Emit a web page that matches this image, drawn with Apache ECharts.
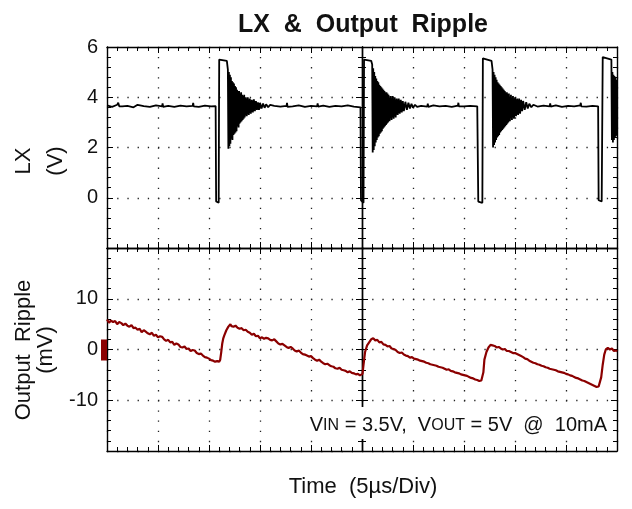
<!DOCTYPE html>
<html><head><meta charset="utf-8">
<script src="https://cdn.jsdelivr.net/npm/echarts@6/dist/echarts.min.js"></script>
<style>html,body{margin:0;padding:0;background:#fff}#c{width:632px;height:509px}</style>
</head><body><div id="c"></div>
<script>
// ---------- data ----------
const timeRange = [0, 50];          // µs, 5 µs / div
const timeStep = 5;
const lxRange = [-2, 6];            // V
const lxStep = 2;
const lxTickLabels = [6, 4, 2, 0];
const rippleRange = [-20, 20];      // mV
const rippleStep = 10;
const rippleTickLabels = [10, 0, -10];

// LX switching node [time µs, volts]
const lxTrace = [
 [0,3.68],[0.5,3.62],[1,3.7],[1.1,3.78],[1.2,3.64],[1.5,3.64],[2,3.66],[2.6,3.6],[3,3.7],[3.6,3.65],[4.2,3.62],[4.8,3.68],[5.4,3.64],[5.45,3.76],[5.5,3.62],[6,3.66],[6.6,3.62],[7.2,3.67],[7.8,3.64],[8.4,3.66],[8.45,3.78],[8.5,3.64],[9,3.62],[9.6,3.67],[10.2,3.64],[10.65,3.65],
 [10.7,-0.15],[10.95,-0.2],[11.0,5.5],[11.1,5.52],[11.75,5.45],
 [11.85,5.1],[11.9,1.95],[11.95,5.0],[12.0,2.05],[12.05,4.9],[12.1,2.15],[12.15,4.8],[12.2,2.35],[12.25,4.65],[12.3,2.3],[12.35,4.6],[12.4,2.5],[12.45,4.55],[12.5,2.55],[12.55,4.45],[12.6,2.6],[12.65,4.4],[12.7,2.65],[12.75,4.3],[12.8,2.85],[12.85,4.25],[12.9,2.8],[12.95,4.25],[13.0,2.95],[13.05,4.15],[13.1,3.0],[13.15,4.2],[13.2,3.05],[13.25,4.1],[13.3,3.1],[13.35,4.05],[13.4,3.15],[13.45,4.1],[13.5,3.2],[13.6,4.0],[13.7,3.25],[13.8,4.0],[13.9,3.3],[14.0,3.95],[14.1,3.35],[14.2,3.9],[14.3,3.4],[14.4,3.92],[14.5,3.45],[14.6,3.85],[14.7,3.5],[14.8,3.8],[14.9,3.5],[15.0,3.78],[15.15,3.55],[15.3,3.75],[15.45,3.58],[15.6,3.72],[15.8,3.6],[16.0,3.7],
 [16.4,3.66],[17,3.63],[17.6,3.66],[17.65,3.78],[17.7,3.62],[18.2,3.64],[18.8,3.68],[19.4,3.62],[20,3.66],[20.6,3.64],[20.65,3.76],[20.7,3.63],[21.2,3.67],[21.8,3.62],[22.4,3.66],[23,3.64],[23.6,3.68],[24.2,3.63],[24.85,3.6],
 [24.9,-0.1],[25.15,-0.2],[25.2,5.5],[25.3,5.55],[25.9,5.45],
 [26.0,5.3],[26.05,1.8],[26.1,5.15],[26.15,1.9],[26.2,5.0],[26.25,2.05],[26.3,4.85],[26.35,2.2],[26.4,4.75],[26.45,2.3],[26.5,4.65],[26.55,2.4],[26.6,4.6],[26.65,2.45],[26.7,4.5],[26.75,2.55],[26.8,4.45],[26.85,2.6],[26.9,4.4],[26.95,2.65],[27.0,4.35],[27.05,2.75],[27.1,4.3],[27.15,2.8],[27.2,4.25],[27.25,2.85],[27.3,4.2],[27.35,2.9],[27.4,4.2],[27.45,2.95],[27.5,4.15],[27.55,3.0],[27.6,4.1],[27.7,3.05],[27.8,4.05],[27.9,3.1],[28.0,4.05],[28.1,3.15],[28.2,4.0],[28.3,3.2],[28.4,3.95],[28.5,3.3],[28.6,3.95],[28.7,3.35],[28.8,3.9],[28.9,3.4],[29.0,3.85],[29.1,3.45],[29.25,3.82],[29.4,3.5],[29.55,3.78],[29.7,3.55],[29.85,3.74],[30.0,3.58],[30.2,3.7],[30.4,3.62],
 [30.8,3.66],[31.4,3.63],[31.45,3.75],[31.5,3.62],[32,3.68],[32.6,3.64],[33.2,3.66],[33.8,3.62],[34.4,3.67],[34.45,3.78],[34.5,3.64],[35,3.64],[35.6,3.66],[36.3,3.64],
 [36.4,-0.15],[36.8,-0.2],[36.85,5.55],[37.0,5.55],[37.7,5.45],
 [37.8,5.1],[37.85,2.0],[37.9,5.0],[37.95,2.1],[38.0,4.9],[38.05,2.2],[38.1,4.8],[38.15,2.3],[38.2,4.7],[38.25,2.4],[38.3,4.6],[38.35,2.45],[38.4,4.55],[38.45,2.5],[38.5,4.5],[38.55,2.6],[38.6,4.45],[38.65,2.65],[38.7,4.4],[38.75,2.7],[38.8,4.35],[38.85,2.75],[38.9,4.3],[38.95,2.8],[39.0,4.25],[39.05,2.85],[39.1,4.2],[39.15,2.9],[39.2,4.2],[39.25,2.95],[39.3,4.15],[39.35,3.0],[39.4,4.15],[39.5,3.05],[39.6,4.1],[39.7,3.1],[39.8,4.05],[39.9,3.15],[40.0,4.0],[40.1,3.25],[40.2,3.95],[40.3,3.3],[40.4,3.95],[40.5,3.35],[40.6,3.9],[40.7,3.45],[40.8,3.85],[40.95,3.5],[41.1,3.8],[41.25,3.55],[41.4,3.74],[41.6,3.6],[41.8,3.7],
 [42.2,3.63],[42.8,3.67],[43.4,3.64],[43.45,3.76],[43.5,3.63],[44,3.68],[44.6,3.62],[45.2,3.66],[45.8,3.64],[46.4,3.68],[46.45,3.78],[46.5,3.64],[47,3.63],[47.6,3.66],[48.15,3.64],
 [48.2,-0.1],[48.5,-0.15],[48.6,5.6],[48.7,5.58],[49.45,5.5],
 [49.5,2.3],[49.55,5.0],[49.6,2.2],[49.65,4.9],[49.7,2.3],[49.75,4.85],[49.8,2.4],[49.85,4.8],[49.9,2.45],[49.95,4.7],[50.0,2.5]
];

// Output ripple [time µs, mV]
const rippleTrace = [
 [0,5.9],[0.2,5.3],[0.4,5.7],[0.6,5.4],[0.8,5.6],[1.0,5.0],[1.2,5.4],[1.4,5.2],[1.6,4.8],[1.8,5.1],[2.0,4.7],[2.2,4.5],[2.4,4.8],[2.6,4.2],[2.8,4.3],[3.0,3.9],[3.2,4.1],[3.4,3.4],[3.6,3.8],[3.8,3.5],[4.0,3.2],[4.2,3.0],[4.4,3.3],[4.6,2.7],[4.8,2.9],[5.0,2.4],[5.2,2.6],[5.4,2.5],[5.6,2.0],[5.8,1.7],[6.0,1.9],[6.2,1.4],[6.4,1.5],[6.6,0.9],[6.8,1.2],[7.0,1.0],[7.2,0.5],[7.4,0.4],[7.6,0.6],[7.8,0.1],[8.0,0.2],[8.2,-0.3],[8.4,-0.1],[8.6,-0.2],[8.8,-0.7],[9.0,-0.9],[9.2,-0.8],[9.4,-1.2],[9.6,-1.5],[9.8,-1.6],[10.0,-1.8],[10.2,-2.1],[10.4,-2.2],[10.6,-2.4],[10.8,-2.3],[11.0,-2.4],[11.1,-2.0],
 [11.2,-0.5],[11.3,1.2],[11.4,2.2],[11.5,2.8],[11.7,3.8],[11.9,4.5],[12.1,5.0],
 [12.2,4.6],[12.3,4.9],[12.4,4.5],[12.6,4.7],[12.8,4.3],[13.0,4.1],[13.2,4.2],[13.4,3.8],[13.6,3.9],[13.8,3.5],[14.0,3.3],[14.2,2.9],[14.4,3.1],[14.6,2.6],[14.8,2.7],[15.0,2.2],[15.2,2.4],[15.4,2.1],[15.6,2.3],[15.8,2.2],[16.0,1.9],[16.2,1.8],[16.4,2.0],[16.6,1.6],[16.8,1.2],[17.0,1.0],[17.2,1.1],[17.4,0.8],[17.6,0.5],[17.8,0.3],[18.0,0.5],[18.2,0.2],[18.4,-0.2],[18.6,-0.4],[18.8,-0.2],[19.0,-0.6],[19.2,-0.9],[19.4,-1.0],[19.6,-1.2],[19.8,-1.4],[20.0,-1.3],[20.2,-1.7],[20.4,-2.0],[20.6,-2.2],[20.8,-2.0],[21.0,-2.4],[21.2,-2.7],[21.4,-2.9],[21.6,-2.8],[21.8,-3.1],[22.0,-3.3],[22.2,-3.4],[22.4,-3.7],[22.6,-3.8],[22.8,-3.6],[23.0,-4.0],[23.2,-4.1],[23.4,-4.2],[23.6,-4.5],[23.8,-4.3],[24.0,-4.6],[24.2,-4.7],[24.4,-4.9],[24.6,-4.8],[24.8,-5.1],[24.95,-5.0],[25.05,-4.8],
 [25.15,-3.0],[25.3,-0.5],[25.5,0.8],[25.7,1.4],[25.9,2.0],[26.1,2.2],
 [26.3,1.8],[26.5,1.9],[26.7,1.4],[26.9,1.5],[27.1,1.0],[27.3,0.9],[27.5,0.6],[27.7,0.7],[27.9,0.2],[28.1,0.1],[28.3,-0.1],[28.5,-0.5],[28.7,-0.7],[28.9,-0.6],[29.1,-1.0],[29.3,-1.2],[29.5,-1.3],[29.7,-1.6],[29.9,-1.5],[30.1,-1.8],[30.3,-1.9],[30.5,-2.0],[30.7,-2.2],[30.9,-2.3],[31.1,-2.4],[31.3,-2.6],[31.5,-2.7],[31.7,-2.9],[31.9,-3.0],[32.1,-3.1],[32.3,-3.2],[32.5,-3.4],[32.7,-3.5],[32.9,-3.6],[33.1,-3.8],[33.3,-4.0],[33.5,-3.9],[33.7,-4.2],[33.9,-4.3],[34.1,-4.5],[34.3,-4.6],[34.5,-4.7],[34.7,-4.9],[34.9,-5.0],[35.1,-5.1],[35.3,-5.2],[35.5,-5.4],[35.7,-5.6],[35.9,-5.7],[36.1,-5.9],[36.3,-6.0],[36.5,-6.2],[36.7,-6.1],[36.8,-6.0],
 [36.9,-4.5],[37.0,-2.0],[37.2,-0.5],[37.4,0.4],[37.6,0.9],[37.8,0.8],
 [38.0,0.7],[38.2,0.4],[38.4,0.5],[38.6,0.2],[38.8,0.0],[39.0,0.1],[39.2,-0.3],[39.4,-0.3],[39.6,-0.5],[39.8,-0.7],[40.0,-0.7],[40.2,-0.9],[40.4,-1.1],[40.6,-1.3],[40.8,-1.5],[41.0,-1.8],[41.2,-1.9],[41.4,-2.2],[41.6,-2.4],[41.8,-2.6],[42.0,-2.7],[42.2,-2.9],[42.4,-3.0],[42.6,-3.2],[42.8,-3.3],[43.0,-3.5],[43.2,-3.6],[43.4,-3.8],[43.6,-3.9],[43.8,-4.0],[44.0,-4.1],[44.2,-4.3],[44.4,-4.4],[44.6,-4.5],[44.8,-4.6],[45.0,-4.8],[45.2,-4.9],[45.4,-5.1],[45.6,-5.2],[45.8,-5.4],[46.0,-5.6],[46.2,-5.7],[46.4,-5.9],[46.6,-6.1],[46.8,-6.2],[47.0,-6.4],[47.2,-6.6],[47.4,-6.8],[47.6,-7.0],[47.8,-7.2],[48.0,-7.4],[48.2,-7.3],[48.3,-7.1],
 [48.45,-5.5],[48.6,-3.0],[48.75,-1.0],[48.9,0.0],[49.1,0.3],[49.3,0.0],[49.5,0.2],[49.7,-0.3],[49.9,-0.2],[50.0,-0.4]
];

// ---------- chart ----------
const FONT = '"Liberation Sans", Arial, Helvetica, sans-serif';
const G = { left: 107, width: 510, top1: 47, h1: 201, top2: 248, h2: 203 };
const INK = '#000';

function tick(len){ return { show: true, inside: true, length: len, lineStyle: { color: INK, width: 1 } }; }
function minor(){ return { show: true, splitNumber: 5, length: 4, lineStyle: { color: INK, width: 1 } }; }
function dots(step){ return { show: true, lineStyle: { color: '#222', width: 1.3, type: [1.3, step - 1.3] } }; }

function xAx(grid, pos, main, dotStep){
  return { type: 'value', gridIndex: grid, position: pos, min: timeRange[0], max: timeRange[1], interval: timeStep,
    axisLine: { show: true, onZero: false, lineStyle: { color: INK, width: 1.4 } },
    axisTick: tick(6), minorTick: minor(), axisLabel: { show: false },
    splitLine: main ? dots(dotStep) : { show: false } };
}
function yAx(grid, pos, offset, range, step, labels, main, dotStep){
  return { type: 'value', gridIndex: grid, position: pos, offset: offset, min: range[0], max: range[1], interval: step,
    axisLine: { show: true, onZero: false, lineStyle: { color: INK, width: 1.4 } },
    axisTick: tick(6), minorTick: minor(),
    axisLabel: labels ? { show: true, margin: 9, color: '#111', fontSize: 20, fontFamily: FONT,
      formatter: v => labels.indexOf(v) >= 0 ? String(v) : '' } : { show: false },
    splitLine: main ? dots(dotStep) : { show: false } };
}

const half = G.width / 2;
const chart = echarts.init(document.getElementById('c'), null, { renderer: 'canvas' });
const option = {
  animation: false,
  backgroundColor: '#fff',
  grid: [
    { left: G.left, top: G.top1, width: G.width, height: G.h1, containLabel: false },
    { left: G.left, top: G.top2, width: G.width, height: G.h2, containLabel: false }
  ],
  xAxis: [
    xAx(0, 'bottom', true, G.h1 / 20),
    xAx(0, 'top', false),
    xAx(1, 'bottom', true, G.h2 / 20),
    xAx(1, 'top', false)
  ],
  yAxis: [
    yAx(0, 'left', 0, lxRange, lxStep, lxTickLabels, true, G.width / 50),
    yAx(0, 'right', 0, lxRange, lxStep, null, false),
    yAx(0, 'left', -half, lxRange, lxStep, null, false),
    yAx(0, 'right', -half, lxRange, lxStep, null, false),
    yAx(1, 'left', 0, rippleRange, rippleStep, rippleTickLabels, true, G.width / 50),
    yAx(1, 'right', 0, rippleRange, rippleStep, null, false),
    yAx(1, 'left', -half, rippleRange, rippleStep, null, false),
    yAx(1, 'right', -half, rippleRange, rippleStep, null, false)
  ],
  series: [
    { type: 'line', name: 'LX', xAxisIndex: 0, yAxisIndex: 0, data: lxTrace, showSymbol: false, symbol: 'none',
      lineStyle: { color: '#000', width: 1.8, join: 'bevel' }, z: 5 },
    { type: 'line', name: 'Output Ripple', xAxisIndex: 2, yAxisIndex: 4, data: rippleTrace, showSymbol: false, symbol: 'none',
      lineStyle: { color: '#8b0000', width: 2.2 }, z: 5 }
  ]
};
chart.setOption(option);

const zeroY = chart.convertToPixel({ yAxisIndex: 4 }, 0);
chart.setOption({
  graphic: [
    { type: 'text', x: 363, y: 25, style: { text: 'LX  &  Output  Ripple', font: 'bold 25px ' + FONT, fill: '#111', align: 'center', verticalAlign: 'middle', textAlign: 'center', textVerticalAlign: 'middle' } },
    { type: 'text', x: 363, y: 487, style: { text: 'Time  (5µs/Div)', font: '22px ' + FONT, fill: '#111', align: 'center', verticalAlign: 'middle', textAlign: 'center', textVerticalAlign: 'middle' } },
    { type: 'text', x: 24, y: 161, rotation: Math.PI / 2, style: { text: 'LX', font: '22px ' + FONT, fill: '#111', align: 'center', verticalAlign: 'middle', textAlign: 'center', textVerticalAlign: 'middle' } },
    { type: 'text', x: 56, y: 161, rotation: Math.PI / 2, style: { text: '(V)', font: '22px ' + FONT, fill: '#111', align: 'center', verticalAlign: 'middle', textAlign: 'center', textVerticalAlign: 'middle' } },
    { type: 'text', x: 24, y: 350, rotation: Math.PI / 2, style: { text: 'Output  Ripple', font: '22px ' + FONT, fill: '#111', align: 'center', verticalAlign: 'middle', textAlign: 'center', textVerticalAlign: 'middle' } },
    { type: 'text', x: 46, y: 350, rotation: Math.PI / 2, style: { text: '(mV)', font: '22px ' + FONT, fill: '#111', align: 'center', verticalAlign: 'middle', textAlign: 'center', textVerticalAlign: 'middle' } },
    { type: 'rect', shape: { x: 101, y: zeroY - 10, width: 6, height: 21 }, style: { fill: '#8b0000' }, z: 10 },
    { type: 'text', x: 610, y: 423, z: 20, style: {
        text: '{n|V}{s|IN}{n| = 3.5V,  V}{s|OUT}{n| = 5V  @  10mA}',
        rich: { n: { fontSize: 20, fontFamily: FONT, fill: '#111', verticalAlign: 'bottom', lineHeight: 24 },
                s: { fontSize: 16, fontFamily: FONT, fill: '#111', verticalAlign: 'bottom', lineHeight: 24, padding: [0, 0, 1, 0] } },
        backgroundColor: '#fff', padding: [4, 3, 4, 4],
        align: 'right', verticalAlign: 'middle', textAlign: 'right', textVerticalAlign: 'middle' } }
  ]
});
</script>
</body></html>
